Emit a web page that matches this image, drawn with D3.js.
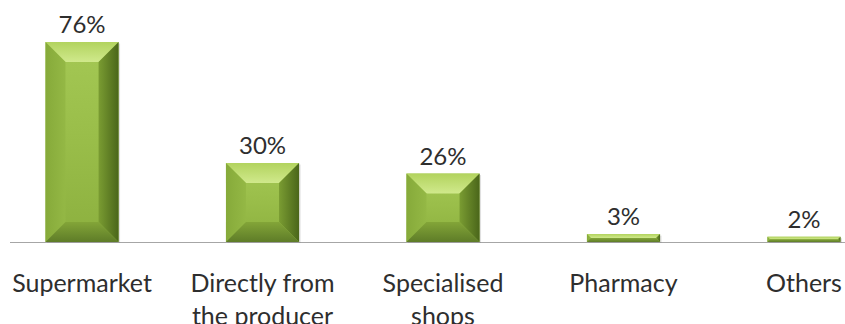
<!DOCTYPE html>
<html>
<head>
<meta charset="utf-8">
<script src="https://cdn.jsdelivr.net/npm/d3@7"></script>
<style>
  html, body { margin: 0; padding: 0; background: #ffffff; }
  svg { display: block; }
  text { font-family: Lato, "Open Sans", sans-serif; fill: #2e2e2e; }
</style>
</head>
<body>
<svg id="chart" width="845" height="324"></svg>
<script>
const categories = ["Supermarket", "Directly from\nthe producer", "Specialised\nshops", "Pharmacy", "Others"];
const values = [76, 30, 26, 3, 2];
const valueLabels = ["76%", "30%", "26%", "3%", "2%"];

const W = 845, H = 324;
const svg = d3.select("#chart");

const x = d3.scaleBand().domain(categories).range([0, 886]).paddingInner(0.595).paddingOuter(0.252);
const y = d3.scaleLinear().domain([0, 76]).range([242, 42]);

const defs = svg.append("defs");
function grad(id, x1, y1, x2, y2, stops) {
  const g = defs.append("linearGradient").attr("id", id)
    .attr("x1", x1).attr("y1", y1).attr("x2", x2).attr("y2", y2);
  stops.forEach(s => g.append("stop").attr("offset", s[0]).attr("stop-color", s[1]));
}
grad("gFront", 0, 0, 0, 1, [[0, "#a4c854"], [0.5, "#99bd49"], [1, "#8cb03f"]]);
grad("gTop", 0, 0, 0, 1, [[0, "#b2d35e"], [1, "#d0e98c"]]);
grad("gLeft", 0, 0, 1, 0, [[0, "#86aa3a"], [1, "#94b845"]]);
grad("gRight", 0, 0, 1, 0, [[0, "#7a9c32"], [1, "#4a661a"]]);
grad("gBottom", 0, 0, 0, 1, [[0, "#83a538"], [1, "#5e7c28"]]);

// baseline
svg.append("line")
  .attr("x1", 10).attr("x2", W)
  .attr("y1", y(0) + 0.5).attr("y2", y(0) + 0.5)
  .attr("stroke", "#a6a6a6").attr("stroke-width", 1);

const bars = svg.append("g").selectAll("g.bar").data(categories.map((c, i) => ({c, v: values[i], l: valueLabels[i]})))
  .join("g").attr("class", "bar");

bars.each(function(d) {
  const g = d3.select(this);
  const x0 = x(d.c), x1 = x0 + x.bandwidth();
  const y0 = y(d.v), y1 = y(0);
  const w = x1 - x0, h = y1 - y0;
  const b = Math.min(20, h / 2, w / 2);
  // shadow
  g.append("rect").attr("x", x0 + 1.5).attr("y", y0 + 1.5).attr("width", w).attr("height", h - 1)
    .attr("fill", "#000").attr("opacity", 0.12);
  g.append("rect").attr("x", x0).attr("y", y0).attr("width", w).attr("height", h).attr("fill", "url(#gFront)");
  const P = pts => pts.map(p => p.join(",")).join(" ");
  g.append("polygon").attr("points", P([[x0, y0], [x1, y0], [x1 - b, y0 + b], [x0 + b, y0 + b]])).attr("fill", "url(#gTop)");
  g.append("polygon").attr("points", P([[x0, y0], [x0 + b, y0 + b], [x0 + b, y1 - b], [x0, y1]])).attr("fill", "url(#gLeft)");
  g.append("polygon").attr("points", P([[x1, y0], [x1, y1], [x1 - b, y1 - b], [x1 - b, y0 + b]])).attr("fill", "url(#gRight)");
  g.append("polygon").attr("points", P([[x0, y1], [x0 + b, y1 - b], [x1 - b, y1 - b], [x1, y1]])).attr("fill", "url(#gBottom)");
  g.append("text").attr("x", x0 + w / 2).attr("y", y0 - 9)
    .attr("text-anchor", "middle").attr("font-size", 24).text(d.l);
});

// category labels
const labels = svg.append("g").selectAll("text.cat").data(categories).join("text")
  .attr("class", "cat")
  .attr("text-anchor", "middle")
  .attr("font-size", 25)
  .attr("x", d => x(d) + x.bandwidth() / 2)
  .attr("y", 292);
labels.each(function(d) {
  const t = d3.select(this);
  d.split("\n").forEach((line, i) => {
    t.append("tspan").attr("x", x(d) + x.bandwidth() / 2).attr("dy", i === 0 ? 0 : 33).text(line);
  });
});
</script>
</body>
</html>
